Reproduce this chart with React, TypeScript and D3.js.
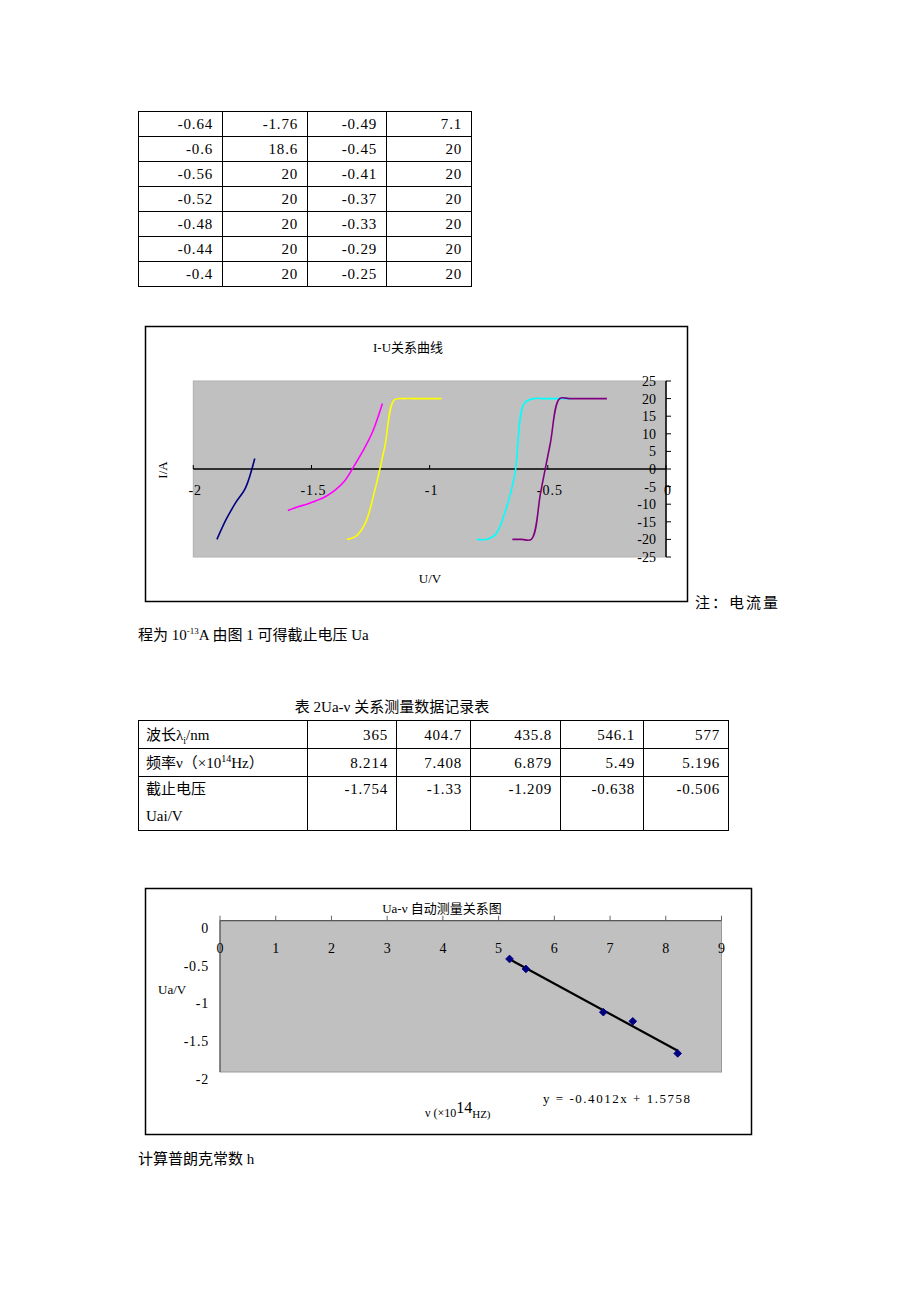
import React from 'react';
import * as d3 from 'd3';

// ---------- Data ----------
// I-U curves (U in V, I in 10^-13 A)
const blueU = [-1.9, -1.86, -1.82, -1.78, -1.74];
const blueI = [-20, -14.2, -9.5, -5.5, 3];
const magentaU = [-1.6, -1.56, -1.52, -1.48, -1.44, -1.4, -1.36, -1.32, -1.28, -1.24, -1.2];
const magentaI = [-11.8, -10.8, -10, -9, -7.8, -6, -3.4, 0.8, 5.4, 10.8, 18.6];
const yellowU = [-1.35, -1.31, -1.27, -1.23, -1.19, -1.15, -1.11, -1.07, -1.03, -0.99, -0.95];
const yellowI = [-20, -19, -15, -5.5, 6.3, 19.6, 20, 20, 20, 20, 20];
const cyanU = [-0.8, -0.76, -0.72, -0.68, -0.64, -0.6, -0.56, -0.52, -0.48, -0.44, -0.4];
const cyanI = [-20, -20, -18.5, -12, -1.76, 18.6, 20, 20, 20, 20, 20];
const purpleU = [-0.65, -0.61, -0.57, -0.53, -0.49, -0.45, -0.41, -0.37, -0.33, -0.29, -0.25];
const purpleI = [-20, -20, -20, -6.5, 7.1, 20, 20, 20, 20, 20, 20];

const iuXTicks = [-2, -1.5, -1, -0.5, 0];
const iuYTicks = [25, 20, 15, 10, 5, 0, -5, -10, -15, -20, -25];

// Table 2
const wavelengths = [365, 404.7, 435.8, 546.1, 577];
const frequencies = [8.214, 7.408, 6.879, 5.49, 5.196];
const cutoffVoltages = [-1.754, -1.33, -1.209, -0.638, -0.506];

// Ua-v chart
const fitSlope = -0.4012;
const fitIntercept = 1.5758;
const uvXTicks = [0, 1, 2, 3, 4, 5, 6, 7, 8, 9];
const uvYTicks = [0, -0.5, -1, -1.5, -2];

const FONT = "'Liberation Serif', 'Noto Sans CJK SC', serif";

export default function App() {
  // ---------- Table 1 (tail of cyan and purple series) ----------
  const t1Cols = [138, 222, 307, 386, 471];
  const t1Top = 111;
  const t1RowH = 25;
  const t1Rows = cyanU.slice(-7).map((u, i) => [
    u, cyanI[cyanI.length - 7 + i], purpleU[purpleU.length - 7 + i], purpleI[purpleI.length - 7 + i],
  ]);

  // ---------- Chart 1 ----------
  const xs1 = d3.scaleLinear().domain([-2, 0]).range([193.3, 666]);
  const ys1 = d3.scaleLinear().domain([-25, 25]).range([557, 381]);
  const line1 = d3
    .line<[number, number]>()
    .x((d) => xs1(d[0]))
    .y((d) => ys1(d[1]))
    .curve(d3.curveCatmullRom.alpha(0.5));
  const series = [
    { u: blueU, i: blueI, color: '#000080' },
    { u: magentaU, i: magentaI, color: '#ff00ff' },
    { u: yellowU, i: yellowI, color: '#ffff00' },
    { u: cyanU, i: cyanI, color: '#00ffff' },
    { u: purpleU, i: purpleI, color: '#800080' },
  ];

  // ---------- Table 2 ----------
  const t2Cols = [138, 307, 396, 470, 560, 643, 728];
  const t2RowsY = [720, 748, 776, 830];

  // ---------- Chart 2 ----------
  const xs2 = d3.scaleLinear().domain([0, 9]).range([220, 721.5]);
  const ys2 = d3.scaleLinear().domain([-2, 0]).range([1072, 920.7]);
  const diamond = d3.symbol(d3.symbolSquare, 30)() as string;
  const fMin = d3.min(frequencies) as number;
  const fMax = d3.max(frequencies) as number;

  return (
    <svg
      width={920}
      height={1302}
      style={{ position: 'absolute', left: 0, top: 0, background: '#fff' }}
      fontFamily={FONT}
    >
      <rect x={0} y={0} width={920} height={1302} fill="#fff" />

      {/* ===== Table 1 ===== */}
      <g>
        {d3.range(8).map((k) => (
          <line key={'h' + k} x1={t1Cols[0]} x2={t1Cols[4]} y1={t1Top + k * t1RowH + 0.5} y2={t1Top + k * t1RowH + 0.5} stroke="#000" strokeWidth={1} />
        ))}
        {t1Cols.map((c, k) => (
          <line key={'v' + k} x1={c + 0.5} x2={c + 0.5} y1={t1Top} y2={t1Top + 7 * t1RowH + 1} stroke="#000" strokeWidth={1} />
        ))}
        {t1Rows.map((row, r) =>
          row.map((v, c) => (
            <text key={r + '-' + c} x={t1Cols[c + 1] - 9} y={t1Top + r * t1RowH + 18} fontSize={15} textAnchor="end" letterSpacing={0.8} fill="#000">
              {String(v)}
            </text>
          ))
        )}
      </g>

      {/* ===== Chart 1: I-U ===== */}
      <g>
        <rect x={145.5} y={326.5} width={542} height={275} fill="#fff" stroke="#000" strokeWidth={1.5} />
        <text x={408} y={352} fontSize={13} textAnchor="middle">I-U关系曲线</text>
        <rect x={xs1(-2)} y={ys1(25)} width={xs1(0) - xs1(-2)} height={ys1(-25) - ys1(25)} fill="#c0c0c0" stroke="#b0b0b0" strokeWidth={1} />
        {/* x axis at I = 0 */}
        <line x1={xs1(-2)} x2={xs1(0)} y1={ys1(0)} y2={ys1(0)} stroke="#000" strokeWidth={1.5} />
        {iuXTicks.map((t) => (
          <g key={'xt' + t}>
            <line x1={xs1(t)} x2={xs1(t)} y1={ys1(0)} y2={ys1(0) - 4} stroke="#000" strokeWidth={1} />
            <text x={xs1(t) + 2} y={ys1(0) + 26} fontSize={14} textAnchor="middle" letterSpacing={1}>{String(t)}</text>
          </g>
        ))}
        {/* y axis at U = 0 */}
        <line x1={xs1(0)} x2={xs1(0)} y1={ys1(25)} y2={ys1(-25)} stroke="#000" strokeWidth={1.5} />
        {iuYTicks.map((t) => (
          <g key={'yt' + t}>
            <line x1={xs1(0)} x2={xs1(0) + 5} y1={ys1(t)} y2={ys1(t)} stroke="#000" strokeWidth={1} />
            <text x={xs1(0) - 10} y={ys1(t) + 5} fontSize={14} textAnchor="end">{String(t)}</text>
          </g>
        ))}
        {series.map((s, k) => (
          <path
            key={'s' + k}
            d={line1(s.u.map((u, j) => [u, s.i[j]] as [number, number])) as string}
            fill="none"
            stroke={s.color}
            strokeWidth={1.6}
          />
        ))}
        <text x={0} y={0} fontSize={13} textAnchor="middle" transform="translate(167,470) rotate(-90)">I/A</text>
        <text x={430} y={583} fontSize={13} textAnchor="middle">U/V</text>
      </g>

      {/* Note text */}
      <text x={695} y={608} fontSize={15} letterSpacing={2}>注：电流量</text>
      <text x={138} y={640} fontSize={15}>
        程为 10
        <tspan fontSize={9} dy={-6}>-13</tspan>
        <tspan dy={6}>A 由图 1 可得截止电压 Ua</tspan>
      </text>

      {/* ===== Table 2 ===== */}
      <g>
        <text x={392} y={712} fontSize={15} textAnchor="middle">表 2Ua-ν 关系测量数据记录表</text>
        {t2RowsY.map((y, k) => (
          <line key={'h2' + k} x1={t2Cols[0]} x2={t2Cols[6]} y1={y + 0.5} y2={y + 0.5} stroke="#000" strokeWidth={1} />
        ))}
        {t2Cols.map((c, k) => (
          <line key={'v2' + k} x1={c + 0.5} x2={c + 0.5} y1={t2RowsY[0]} y2={t2RowsY[3] + 1} stroke="#000" strokeWidth={1} />
        ))}
        <text x={146} y={740} fontSize={15}>
          波长λ<tspan fontSize={10} dy={4}>i</tspan>
          <tspan dy={-4}>/nm</tspan>
        </text>
        <text x={146} y={768} fontSize={15}>
          频率ν（×10<tspan fontSize={10} dy={-6}>14</tspan>
          <tspan dy={6}>Hz）</tspan>
        </text>
        <text x={146} y={794} fontSize={15}>截止电压</text>
        <text x={146} y={821} fontSize={15}>Uai/V</text>
        {wavelengths.map((v, k) => (
          <text key={'w' + k} x={t2Cols[k + 2] - 8} y={740} fontSize={15} textAnchor="end" letterSpacing={0.8}>{String(v)}</text>
        ))}
        {frequencies.map((v, k) => (
          <text key={'f' + k} x={t2Cols[k + 2] - 8} y={768} fontSize={15} textAnchor="end" letterSpacing={0.8}>{String(v)}</text>
        ))}
        {cutoffVoltages.map((v, k) => (
          <text key={'c' + k} x={t2Cols[k + 2] - 8} y={794} fontSize={15} textAnchor="end" letterSpacing={0.8}>{String(v)}</text>
        ))}
      </g>

      {/* ===== Chart 2: Ua-v ===== */}
      <g>
        <rect x={145.5} y={888.5} width={606} height={246} fill="#fff" stroke="#000" strokeWidth={1.5} />
        <text x={442} y={913} fontSize={13} textAnchor="middle">Ua-ν 自动测量关系图</text>
        <rect x={xs2(0)} y={ys2(0)} width={xs2(9) - xs2(0)} height={ys2(-2) - ys2(0)} fill="#c0c0c0" stroke="#9a9a9a" strokeWidth={1} />
        <line x1={xs2(0)} x2={xs2(9)} y1={ys2(0)} y2={ys2(0)} stroke="#444" strokeWidth={1} />
        <line x1={xs2(0)} x2={xs2(0)} y1={ys2(0)} y2={ys2(-2)} stroke="#444" strokeWidth={1} />
        {uvXTicks.map((t) => (
          <g key={'x2' + t}>
            <line x1={xs2(t)} x2={xs2(t)} y1={ys2(0)} y2={ys2(0) - 5} stroke="#666" strokeWidth={1} />
            <text x={xs2(t)} y={ys2(0) + 32} fontSize={14} textAnchor="middle">{String(t)}</text>
          </g>
        ))}
        {uvYTicks.map((t) => (
          <text key={'y2' + t} x={209} y={ys2(t) + 12} fontSize={14} textAnchor="end" letterSpacing={0.8}>{String(t)}</text>
        ))}
        <line
          x1={xs2(fMin)}
          x2={xs2(fMax)}
          y1={ys2(fitSlope * fMin + fitIntercept)}
          y2={ys2(fitSlope * fMax + fitIntercept)}
          stroke="#000"
          strokeWidth={2.2}
        />
        {frequencies.map((f, k) => (
          <path key={'p' + k} d={diamond} transform={`translate(${xs2(f)},${ys2(cutoffVoltages[k])}) rotate(45)`} fill="#000080" stroke="#000080" strokeWidth={0.8} />
        ))}
        <text x={158} y={994} fontSize={13}>Ua/V</text>
        <text x={543} y={1103} fontSize={13} textLength={147} lengthAdjust="spacing">y = -0.4012x + 1.5758</text>
        <text x={425} y={1117} fontSize={12}>
          ν (×10<tspan fontSize={16} dy={-4}>14</tspan>
          <tspan fontSize={11} dy={5}>HZ)</tspan>
        </text>
      </g>

      <text x={138} y={1164} fontSize={15}>计算普朗克常数 h</text>
    </svg>
  );
}
